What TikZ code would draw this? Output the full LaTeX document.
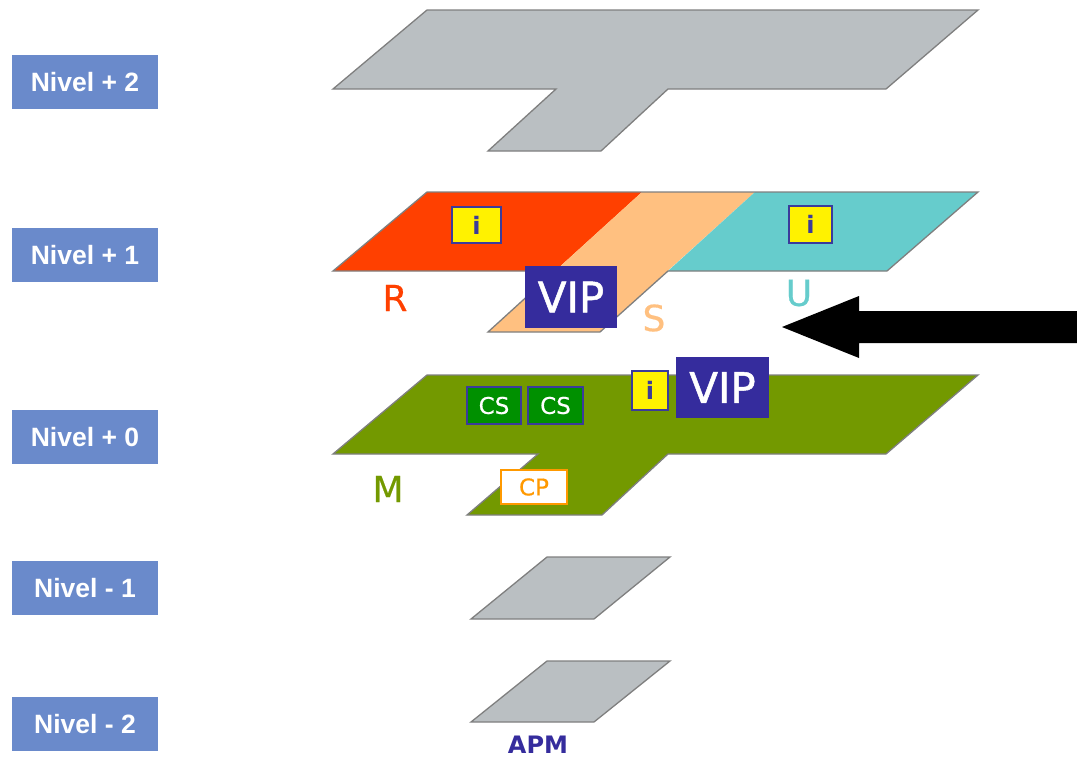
\documentclass[tikz,border=0pt]{standalone}
\usepackage{fontspec}
\setmainfont{DejaVu Sans}
\newfontfamily\nivelfont{Liberation Sans}
\newfontfamily\vipfont[FakeBold=1.2]{DejaVu Sans}
\newfontfamily\zonafont[FakeBold=0.5]{DejaVu Sans}
\usepackage{tikz}

\definecolor{planogris}{HTML}{BABFC2}
\definecolor{bordegris}{HTML}{7F7F7F}
\definecolor{zonaR}{HTML}{FF4000}
\definecolor{zonaS}{HTML}{FFC080}
\definecolor{zonaU}{HTML}{66CCCC}
\definecolor{zonaM}{HTML}{739900}
\definecolor{nivelazul}{HTML}{6A8ACB}
\definecolor{vipazul}{HTML}{352C9D}
\definecolor{azulborde}{HTML}{3B3B9B}
\definecolor{csverde}{HTML}{009000}
\definecolor{cpnaranja}{HTML}{FF9900}

\begin{document}
\begin{tikzpicture}[x=1pt, y=-1pt,
            nivel/.style={fill=nivelazul, text=white, inner sep=0pt, minimum width=146pt, minimum height=54pt, font=\nivelfont\bfseries\fontsize{26.5}{26.5}\selectfont}, % level boxes on the left
            planta/.style={draw=bordegris, line width=1.3pt}, % outline of a floor
            caja/.style={draw=azulborde, line width=1.4pt, inner sep=0pt}, % small boxes on the floors
            info/.style={caja, fill=yellow, text=azulborde, font=\bfseries\fontsize{24}{24}\selectfont},
            vip/.style={fill=vipazul, text=white, inner sep=0pt, font=\vipfont\fontsize{42}{42}\selectfont},
            cs/.style={caja, fill=csverde, text=white, minimum width=54pt, minimum height=37pt, font=\zonafont\fontsize{23}{23}\selectfont},
            zona/.style={font=\zonafont\fontsize{36}{36}\selectfont} % zone letters
            ]
    \useasboundingbox (0,0) rectangle (1077,761);

    % Level labels
    \node[nivel] (n2) at (85,82) {Nivel + 2};
    \node[nivel] (n1) at (85,255) {Nivel + 1};
    \node[nivel] (n0) at (85,437) {Nivel + 0};
    \node[nivel] (nm1) at (85,588) {Nivel - 1};
    \node[nivel] (nm2) at (85,724) {Nivel - 2};

    % Floor +2
    \filldraw[planta, fill=planogris] (427,10) -- (978,10) -- (886,89) -- (668,89) -- (601,151) -- (488,151) -- (556,89) -- (333,89) -- cycle;

    % Floor +1
    \fill[zonaR] (333,271) -- (427,192) -- (642,192) -- (555,271) -- cycle;
    \fill[zonaS] (642,192) -- (755,192) -- (600,332) -- (488,332) -- cycle;
    \fill[zonaU] (755,192) -- (978,192) -- (887,271) -- (668,271) -- cycle;
    \draw[planta] (427,192) -- (978,192) -- (887,271) -- (668,271) -- (600,332) -- (488,332) -- (555,271) -- (333,271) -- cycle;
    \node[info, minimum width=49pt, minimum height=36pt] (i1) at (476.5,225) {i};
    \node[info, minimum width=43pt, minimum height=37pt] (i2) at (810.5,224.5) {i};
    \node[vip, minimum width=92pt, minimum height=62pt] (vip1) at (571,297) {VIP};
    \node[zona, text=zonaR] (R) at (395,298) {R};
    \node[zona, text=zonaS] (S) at (654,318) {S};
    \node[zona, text=zonaU] (U) at (799,293) {U};

    % Floor +0
    \filldraw[planta, fill=zonaM] (427,375) -- (978,375) -- (886,454) -- (668,454) -- (602,515) -- (467,515) -- (538,454) -- (333,454) -- cycle;
    \node[cs] (cs1) at (494,405.5) {CS};
    \node[cs, minimum width=55pt] (cs2) at (555.5,405.5) {CS};
    \node[info, minimum width=36pt, minimum height=39pt] (i0) at (650,390.5) {i};
    \node[vip, minimum width=93pt, minimum height=61pt] (vip0) at (722.5,387.5) {VIP};
    \node[draw=cpnaranja, line width=1.4pt, fill=white, text=cpnaranja, inner sep=0pt, minimum width=66pt, minimum height=34pt, font=\zonafont\fontsize{23}{23}\selectfont] (cp) at (534,487) {CP};
    \node[zona, text=zonaM] (M) at (388,489) {M};

    % Floors -1 and -2
    \filldraw[planta, fill=planogris] (547,557) -- (670,557) -- (594,619) -- (471,619) -- cycle;
    \filldraw[planta, fill=planogris] (547,661) -- (670,661) -- (594,722) -- (471,722) -- cycle;
    \node[text=vipazul, font=\bfseries\fontsize{24}{24}\selectfont] (apm) at (538,745) {APM};

    % Entrance arrow
    \fill[black] (782,327) -- (859,296) -- (859,311) -- (1077,311) -- (1077,343) -- (859,343) -- (859,358) -- cycle;

\end{tikzpicture}
\end{document}
